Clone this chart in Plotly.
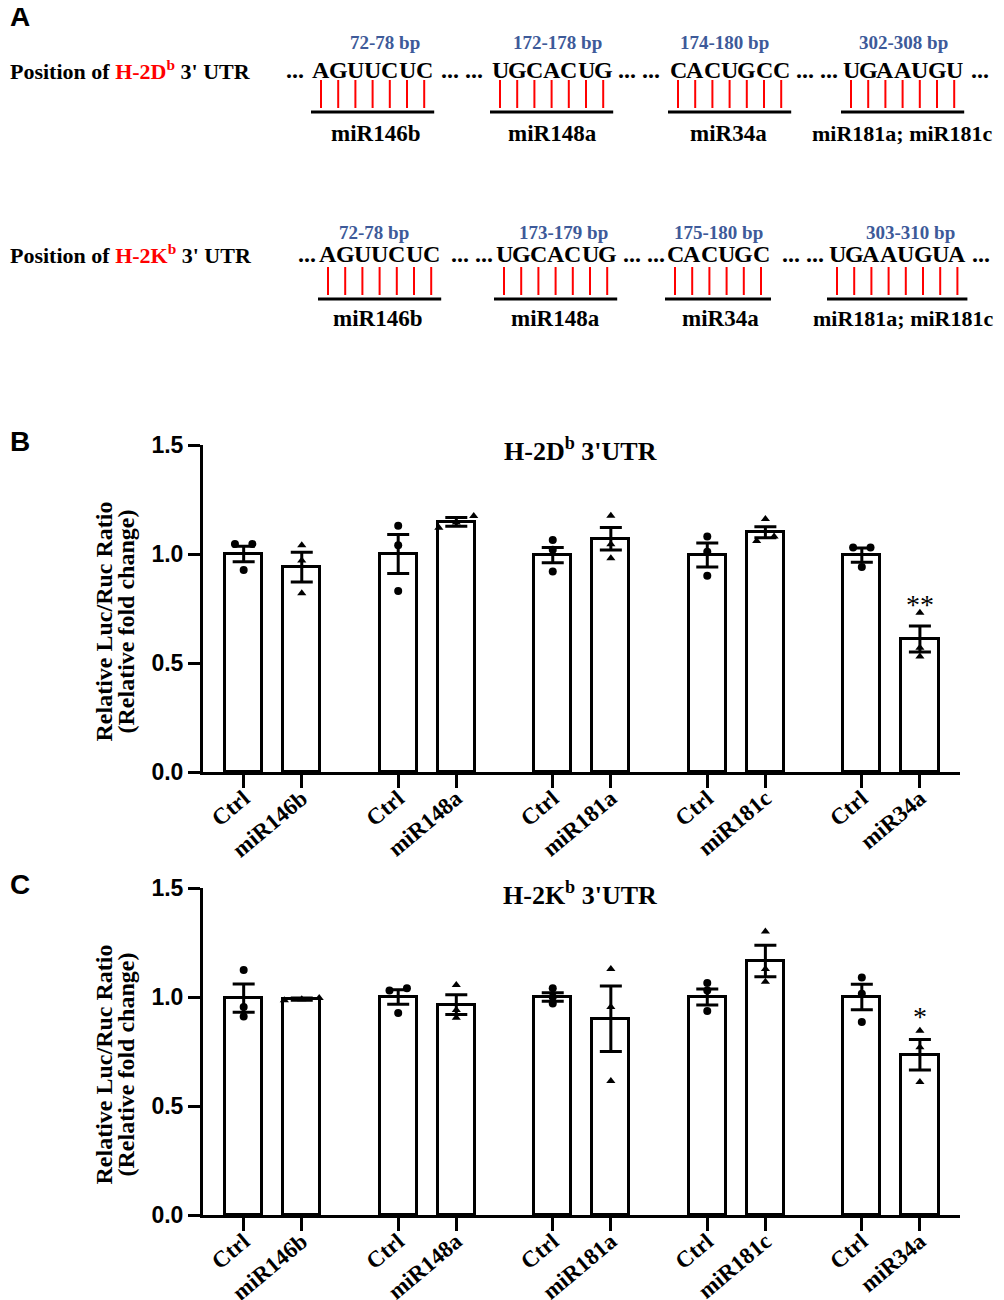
import plotly.graph_objects as go
import numpy as np

# target canvas (reference pixels); the page body adds an 8 px offset
W, H = 1004, 1300
OFF = 8
FW, FH = W - OFF, H - OFF

# ---------------- data ----------------
labels = ["Ctrl", "miR146b", "Ctrl", "miR148a", "Ctrl", "miR181a", "Ctrl", "miR181c", "Ctrl", "miR34a"]
is_mimic = [0, 1, 0, 1, 0, 1, 0, 1, 0, 1]

b_mean = [1.00, 0.94, 1.00, 1.147, 0.995, 1.07, 0.995, 1.10, 0.995, 0.61]
b_sem = [0.035, 0.068, 0.09, 0.02, 0.035, 0.052, 0.055, 0.025, 0.033, 0.06]
b_points = [[1.046, 1.046, 0.927], [1.04, 0.97, 0.82], [1.13, 1.04, 0.83], [1.174, 1.145, 1.12],
            [1.064, 1.02, 0.92], [1.175, 1.045, 0.98], [1.08, 1.01, 0.90], [1.16, 1.08, 1.06],
            [1.03, 1.03, 0.94], [0.73, 0.57, 0.53]]

c_mean = [0.995, 0.99, 1.0, 0.965, 1.0, 0.90, 1.0, 1.165, 1.0, 0.735]
c_sem = [0.065, 0.005, 0.033, 0.045, 0.02, 0.15, 0.037, 0.072, 0.058, 0.07]
c_points = [[1.124, 0.954, 0.91], [0.995, 0.99, 0.985], [1.04, 1.03, 0.927], [1.055, 0.94, 0.905],
            [1.04, 1.0, 0.97], [1.128, 0.954, 0.615], [1.064, 1.03, 0.936], [1.30, 1.128, 1.07],
            [1.09, 1.015, 0.885], [0.845, 0.77, 0.61]]

b_title = "H-2D<sup>b</sup> 3'UTR"
c_title = "H-2K<sup>b</sup> 3'UTR"
y_title_lines = ["Relative Luc/Ruc Ratio", "(Relative fold change)"]
b_sig = "**"
c_sig = "*"

seqs_D = ["AGUUCUC", "UGCACUG", "CACUGCC", "UGAAUGU"]
bp_D = ["72-78 bp", "172-178 bp", "174-180 bp", "302-308 bp"]
seqs_K = ["AGUUCUC", "UGCACUG", "CACUGC", "UGAAUGUA"]
bp_K = ["72-78 bp", "173-179 bp", "175-180 bp", "303-310 bp"]
mirs = ["miR146b", "miR148a", "miR34a", "miR181a; miR181c"]

# ---------------- layout helpers ----------------
GROUP_STEP = 2.66
xpos = [(i // 2) * GROUP_STEP + m for i, m in enumerate(is_mimic)]
XR = [-0.7, 4 * GROUP_STEP + 1 + 0.69]
SERIF = "Liberation Serif"
SANS = "Liberation Sans"
BLUE = "#3d5a99"


def px(x):
    return (x - OFF) / FW


def py(y):
    return 1 - (y - OFF) / FH


fig = go.Figure()
annotations = []
shapes = []


def jitter(vals, spacing=0.3, tol=0.03):
    vals = list(vals)
    offs = [0.0] * len(vals)
    order = sorted(range(len(vals)), key=lambda k: vals[k])
    clusters = []
    for k in order:
        if clusters and abs(vals[k] - vals[clusters[-1][-1]]) < tol:
            clusters[-1].append(k)
        else:
            clusters.append([k])
    for cl in clusters:
        n = len(cl)
        for j, k in enumerate(cl):
            offs[k] = (j - (n - 1) / 2) * spacing
    return offs


def add_panel(means, sems, points, xa, ya):
    fig.add_trace(go.Bar(
        x=xpos, y=means, width=0.64, xaxis=xa, yaxis=ya,
        marker=dict(color="white", line=dict(color="black", width=3)),
        error_y=dict(type="data", array=sems, visible=True, color="black", thickness=3, width=11),
        showlegend=False, hoverinfo="skip"))
    for i, pts in enumerate(points):
        offs = jitter(pts, spacing=0.3 if len(set(np.round(pts, 2))) > 1 else 0.22)
        fig.add_trace(go.Scatter(
            x=[xpos[i] + o for o in offs], y=pts, mode="markers", xaxis=xa, yaxis=ya,
            marker=dict(color="black", size=8,
                        symbol="triangle-up" if is_mimic[i] else "circle"),
            cliponaxis=False, showlegend=False, hoverinfo="skip"))


add_panel(b_mean, b_sem, b_points, "x", "y")
add_panel(c_mean, c_sem, c_points, "x2", "y2")

axis_common_x = dict(
    range=XR, tickvals=xpos, ticktext=labels, tickangle=-40, showline=True, linewidth=3,
    linecolor="black", ticks="outside", ticklen=13, tickwidth=3, tickcolor="black",
    showgrid=False, zeroline=False, automargin=False, ticklabelstandoff=-12,
    tickfont=dict(family=SERIF, size=23, color="black", weight="bold"))
axis_common_y = dict(
    range=[0, 1.5], tickvals=[0, 0.5, 1.0, 1.5], ticktext=["0.0", "0.5", "1.0", "1.5"],
    showline=True, linewidth=3, linecolor="black", ticks="outside", ticklen=12,
    tickwidth=3, tickcolor="black", showgrid=False, zeroline=False, automargin=False,
    tickfont=dict(family=SANS, size=23, color="black", weight="bold"))

X0, X1 = 203, 960
B_TOP, B_BOT = 445, 772
C_TOP, C_BOT = 888, 1215

fig.update_layout(
    xaxis=dict(domain=[px(X0), px(X1)], anchor="y", **axis_common_x),
    yaxis=dict(domain=[py(B_BOT), py(B_TOP)], anchor="x", **axis_common_y),
    xaxis2=dict(domain=[px(X0), px(X1)], anchor="y2", **axis_common_x),
    yaxis2=dict(domain=[py(C_BOT), py(C_TOP)], anchor="x2", **axis_common_y),
)

# panel titles, y titles, significance
for title, top, bot, xa, ya, sig, sig_y, sig_idx in [
        (b_title, B_TOP, B_BOT, "x", "y", b_sig, 0.77, 9),
        (c_title, C_TOP, C_BOT, "x2", "y2", c_sig, 0.91, 9)]:
    annotations.append(dict(x=px(580), y=py(top + 5), xref="paper", yref="paper", text="<b>" + title + "</b>",
                            showarrow=False, font=dict(family=SERIF, size=26, color="black"),
                            xanchor="center", yanchor="middle"))
    for line_x, line_txt in zip([103, 125], y_title_lines):
        annotations.append(dict(x=px(line_x), y=py((top + bot) / 2 + 13), xref="paper", yref="paper",
                                text="<b>" + line_txt + "</b>", textangle=-90, showarrow=False,
                                font=dict(family=SERIF, size=24, color="black"),
                                xanchor="center", yanchor="middle"))
    annotations.append(dict(x=xpos[sig_idx], y=sig_y, xref=xa, yref=ya, text=sig, showarrow=False,
                            font=dict(family=SERIF, size=28, color="black"),
                            xanchor="center", yanchor="middle"))

# panel letters
for letter, ly in [("A", 17), ("B", 441), ("C", 885)]:
    annotations.append(dict(x=px(OFF), y=py(ly), xref="paper", yref="paper", text="<b>" + letter + "</b>",
                            showarrow=False, font=dict(family=SANS, size=28, color="black"),
                            xanchor="left", yanchor="middle"))

# ---------------- panel A ----------------
STEP = 17.2
rows = [
    dict(gene="H-2D", seqs=seqs_D, bps=bp_D, first=[321, 500, 678, 851],
         bp_x=[385, 557, 724, 903], mir_x=[375, 552, 728, 902], dots_x=[295, 462, 639, 817, 980],
         y_bp=43, y_seq=70, y_r0=80, y_r1=108, y_line=112, y_mir=133),
    dict(gene="H-2K", seqs=seqs_K, bps=bp_K, first=[328, 504, 675, 837],
         bp_x=[374, 563, 718, 910], mir_x=[377, 555, 720, 903], dots_x=[307, 472, 644, 803, 981],
         y_bp=232, y_seq=254, y_r0=267, y_r1=295, y_line=299, y_mir=318),
]
for r in rows:
    annotations.append(dict(
        x=px(OFF), y=py(r["y_seq"]), xref="paper", yref="paper",
        text="<b>Position of <span style='color:#ff0000'>" + r["gene"] + "<sup>b</sup></span> 3' UTR</b>",
        showarrow=False, font=dict(family=SERIF, size=22, color="black"), xanchor="left", yanchor="middle"))
    dot_texts = ["..."] + ["... ..."] * 3 + ["..."]
    for dx, dt in zip(r["dots_x"], dot_texts):
        annotations.append(dict(x=px(dx), y=py(r["y_seq"]), xref="paper", yref="paper", text="<b>" + dt + "</b>",
                                showarrow=False, font=dict(family=SERIF, size=24, color="black"),
                                xanchor="center", yanchor="middle"))
    for k, seq in enumerate(r["seqs"]):
        xs = [r["first"][k] + j * STEP for j in range(len(seq))]
        for ch, xc in zip(seq, xs):
            annotations.append(dict(x=px(xc), y=py(r["y_seq"]), xref="paper", yref="paper", text="<b>" + ch + "</b>",
                                    showarrow=False, font=dict(family=SERIF, size=24, color="black"),
                                    xanchor="center", yanchor="middle"))
            shapes.append(dict(type="line", xref="paper", yref="paper", x0=px(xc), x1=px(xc),
                               y0=py(r["y_r0"]), y1=py(r["y_r1"]), line=dict(color="#ff0000", width=2)))
        shapes.append(dict(type="line", xref="paper", yref="paper", x0=px(xs[0] - 10), x1=px(xs[-1] + 10),
                           y0=py(r["y_line"]), y1=py(r["y_line"]), line=dict(color="black", width=3)))
        annotations.append(dict(x=px(r["bp_x"][k]), y=py(r["y_bp"]), xref="paper", yref="paper",
                                text="<b>" + r["bps"][k] + "</b>", showarrow=False,
                                font=dict(family=SERIF, size=19, color=BLUE), xanchor="center", yanchor="middle"))
        annotations.append(dict(x=px(r["mir_x"][k]), y=py(r["y_mir"]), xref="paper", yref="paper",
                                text="<b>" + mirs[k] + "</b>", showarrow=False,
                                font=dict(family=SERIF, size=22 if k == 3 else 23, color="black"),
                                xanchor="center", yanchor="middle"))

fig.update_layout(
    width=FW, height=FH, margin=dict(l=0, r=0, t=0, b=0, autoexpand=False),
    paper_bgcolor="white", plot_bgcolor="white",
    annotations=annotations, shapes=shapes, bargap=0, showlegend=False,
)

fig.write_html("out.html")
